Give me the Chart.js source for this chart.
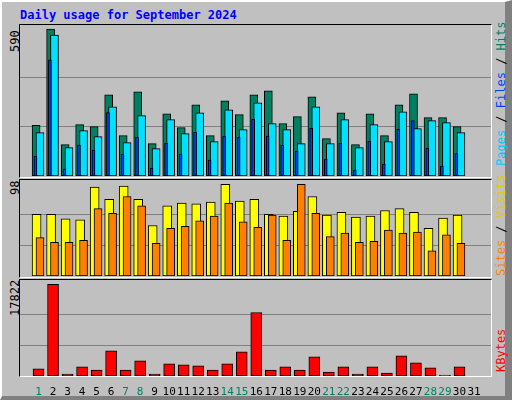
<!DOCTYPE html>
<html><head><meta charset="utf-8">
<script src="https://cdn.jsdelivr.net/npm/chart.js@4"></script>
<style>
body{margin:0;background:#fff}
#frame{position:absolute;left:0;top:0;width:512px;height:400px;background:#C0C0C0;box-sizing:border-box;border-left:2px solid #fff;border-top:2px solid #fff;border-right:7px solid #808080;border-bottom:4px solid #808080}
.pan{position:absolute;box-sizing:border-box;border-top:1px solid #000;border-left:1px solid #000;border-right:1px solid #fff;border-bottom:1px solid #fff}
canvas{position:absolute}
.t{position:absolute;font-family:"DejaVu Sans Mono",monospace;font-size:12px;white-space:nowrap}
.r{transform-origin:0 0;transform:rotate(-90deg)}
</style></head><body>
<div id="frame"></div>
<div class="t" style="left:20px;top:8px;color:#0000FF;font-weight:bold">Daily usage for September 2024</div>
<div class="pan" style="left:19px;top:24px;width:473px;height:154px"></div>
<div class="pan" style="left:19px;top:179px;width:473px;height:99px"></div>
<div class="pan" style="left:19px;top:279px;width:473px;height:98px"></div>
<div class="t r" style="left:8px;top:52px">590</div>
<div class="t r" style="left:8px;top:195px">98</div>
<div class="t r" style="left:8px;top:316px">17822</div>
<div class="t r" style="left:494px;top:166px"><span style="color:#00C8FF">Pages</span> / <span style="color:#0040FF">Files</span> / <span style="color:#008060">Hits</span></div>
<div class="t r" style="left:494px;top:276px"><span style="color:#FF8000">Sites</span> / <span style="color:#E8C800">Visits</span></div>
<div class="t r" style="left:494px;top:372px;color:#FF0000">KBytes</div>
<canvas id="c1" style="left:20px;top:25px;width:471px;height:151px"></canvas>
<canvas id="c2" style="left:20px;top:180px;width:471px;height:96px"></canvas>
<canvas id="c3" style="left:20px;top:280px;width:471px;height:117px"></canvas>
<script>
const days=[1,2,3,4,5,6,7,8,9,10,11,12,13,14,15,16,17,18,19,20,21,22,23,24,25,26,27,28,29,30,31];
const hits=[203,590,126,206,198,326,162,338,130,250,194,286,162,302,246,326,342,210,238,318,150,254,126,250,162,286,330,234,234,198,0];
const files=[174,566,114,182,158,278,134,242,110,226,170,254,138,266,186,294,210,186,130,278,130,226,114,206,138,258,190,222,214,174,0];
const pages=[80,466,28,124,104,255,88,156,32,132,88,175,64,160,156,227,160,124,100,191,68,132,24,140,48,187,222,112,40,90,0];
const sites=[66,66,61,60,95,82,96,82,54,75,78,77,79,98,80,82,66,64,69,85,65,68,63,64,70,72,68,51,62,65,0];
const visits=[41,36,36,38,72,67,85,75,35,51,53,59,64,78,58,52,65,38,98,67,42,46,36,37,49,46,47,27,44,35,0];
const kbytes=[1371,17822,392,1763,1175,4897,1175,2938,392,2350,2155,1959,1175,2350,4701,12340,1175,1763,1175,3721,783,1763,392,1763,588,3917,2546,1567,196,1763,0];
const weekend=[1,7,8,14,15,21,22,28,29];
const MIN0=0.147, MAX0=31.547;
function xa(shift,show){return {type:'linear',display:!!show,min:MIN0+shift,max:MAX0+shift,grid:{display:false},border:{display:false},
 afterBuildTicks:s=>{s.ticks=days.map(v=>({value:v}));},
 afterFit:s=>{if(show)s.height=21;},
 ticks:{autoSkip:false,maxRotation:0,padding:2,font:{family:'DejaVu Sans Mono',size:11},color:c=>weekend.includes(c.tick.value)?'#008060':'#000'}};}
function ya(lab,max){return {min:0,max:max,display:true,border:{display:false},ticks:{display:false},grid:{color:'#808080',drawTicks:false,lineWidth:1},
 afterBuildTicks:s=>{s.ticks=[{value:lab/3},{value:2*lab/3}];},afterFit:s=>{s.width=0;}};}
function ds(data,color,ax,w,ord){return {data:days.map((d,i)=>({x:d,y:data[i]})),backgroundColor:color,borderColor:'#000',borderWidth:1,borderSkipped:false,xAxisID:ax,barThickness:w,grouped:false,order:ord};}
const base={animation:false,responsive:false,devicePixelRatio:1,plugins:{legend:{display:false},tooltip:{enabled:false}},layout:{padding:0}};
function mk(id,datasets,scales,h){const c=document.getElementById(id);c.width=471;c.height=h;
 new Chart(c,{type:'bar',data:{datasets},options:Object.assign({},base,{scales})});}
mk('c1',[ds(hits,'#008060','xh',8,3),ds(files,'#00E0FF','xf',8,2),ds(pages,'#0040FF','xp',3,1)],
 {xh:xa(0.268),xf:xa(0),xp:xa(0.315),y:ya(590,606)},151);
mk('c2',[ds(sites,'#FFFF00','xs',9,2),ds(visits,'#FF8000','xv',8,1)],
 {xs:xa(0.235),xv:xa(0),y:ya(98,102.6)},96);
mk('c3',[ds(kbytes,'#FF0000','xk',11,1)],{xk:xa(0.1,true),y:ya(17822,18664)},117);
</script></body></html>
